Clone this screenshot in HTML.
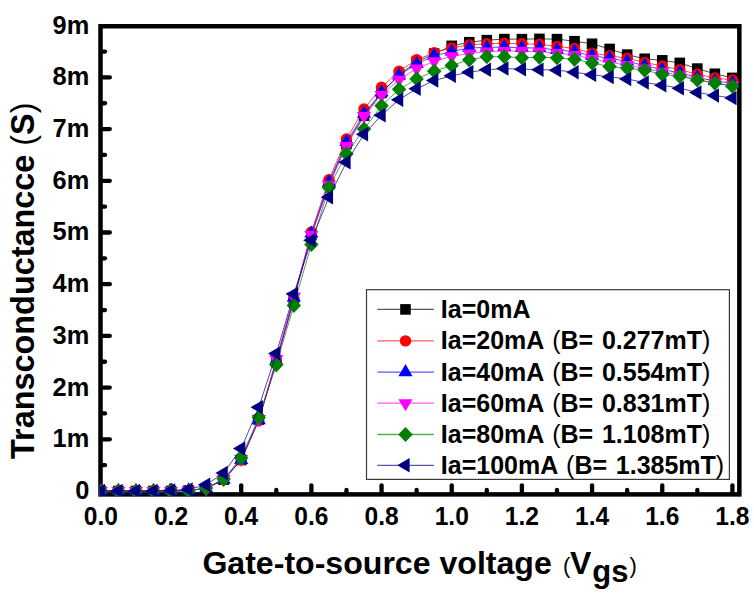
<!DOCTYPE html>
<html><head><meta charset="utf-8"><style>
html,body{margin:0;padding:0;background:#fff;}
body{width:754px;height:594px;overflow:hidden;}
svg{display:block;font-family:"Liberation Sans",sans-serif;font-weight:bold;}
</style></head><body>
<svg width="754" height="594" viewBox="0 0 754 594">
<rect width="754" height="594" fill="#fff"/>
<defs><clipPath id="cp"><rect x="99.6" y="24" width="641" height="472"/></clipPath></defs>
<g stroke="#000" stroke-width="4.3" stroke-linecap="round"><line x1="135.95" y1="494" x2="135.95" y2="489.9" />
<line x1="171.03" y1="494" x2="171.03" y2="485.3" />
<line x1="206.12" y1="494" x2="206.12" y2="489.9" />
<line x1="241.2" y1="494" x2="241.2" y2="485.3" />
<line x1="276.29" y1="494" x2="276.29" y2="489.9" />
<line x1="311.38" y1="494" x2="311.38" y2="485.3" />
<line x1="346.46" y1="494" x2="346.46" y2="489.9" />
<line x1="381.55" y1="494" x2="381.55" y2="485.3" />
<line x1="416.63" y1="494" x2="416.63" y2="489.9" />
<line x1="451.72" y1="494" x2="451.72" y2="485.3" />
<line x1="486.81" y1="494" x2="486.81" y2="489.9" />
<line x1="521.89" y1="494" x2="521.89" y2="485.3" />
<line x1="556.98" y1="494" x2="556.98" y2="489.9" />
<line x1="592.06" y1="494" x2="592.06" y2="485.3" />
<line x1="627.15" y1="494" x2="627.15" y2="489.9" />
<line x1="662.24" y1="494" x2="662.24" y2="485.3" />
<line x1="697.32" y1="494" x2="697.32" y2="489.9" />
<line x1="732.41" y1="494" x2="732.41" y2="485.3" />
<line x1="101" y1="465.15" x2="105" y2="465.15" />
<line x1="101" y1="439.3" x2="109.8" y2="439.3" />
<line x1="101" y1="413.45" x2="105" y2="413.45" />
<line x1="101" y1="387.6" x2="109.8" y2="387.6" />
<line x1="101" y1="361.75" x2="105" y2="361.75" />
<line x1="101" y1="335.9" x2="109.8" y2="335.9" />
<line x1="101" y1="310.05" x2="105" y2="310.05" />
<line x1="101" y1="284.2" x2="109.8" y2="284.2" />
<line x1="101" y1="258.35" x2="105" y2="258.35" />
<line x1="101" y1="232.5" x2="109.8" y2="232.5" />
<line x1="101" y1="206.65" x2="105" y2="206.65" />
<line x1="101" y1="180.8" x2="109.8" y2="180.8" />
<line x1="101" y1="154.95" x2="105" y2="154.95" />
<line x1="101" y1="129.1" x2="109.8" y2="129.1" />
<line x1="101" y1="103.25" x2="105" y2="103.25" />
<line x1="101" y1="77.4" x2="109.8" y2="77.4" />
<line x1="101" y1="51.55" x2="105" y2="51.55" /></g>
<rect x="100.5" y="26.25" width="638.85" height="468.15" fill="none" stroke="#000" stroke-width="4.5"/>
<g clip-path="url(#cp)"><polyline points="100.86,491 118.4,491 135.95,491 153.49,491 171.03,491 188.57,490.48 206.12,488.42 223.66,479.63 241.2,459.98 258.75,419.65 276.29,361.75 293.83,299.71 311.38,235.08 328.92,184.42 346.46,144.09 364,115.66 381.55,92.91 399.09,74.81 416.63,61.89 434.18,53.62 451.72,45.86 469.26,42.24 486.81,40.18 504.35,39.14 521.89,39.14 539.44,38.88 556.98,39.14 574.52,41.21 592.06,43.79 609.61,48.96 627.15,54.65 644.69,58.79 662.24,60.34 679.78,62.92 697.32,68.61 714.87,73.78 732.41,77.92" fill="none" stroke="#000000" stroke-width="1" stroke-opacity="0.7"/>
<rect x="95.56" y="485.7" width="10.6" height="10.6" fill="#000000"/>
<rect x="113.1" y="485.7" width="10.6" height="10.6" fill="#000000"/>
<rect x="130.65" y="485.7" width="10.6" height="10.6" fill="#000000"/>
<rect x="148.19" y="485.7" width="10.6" height="10.6" fill="#000000"/>
<rect x="165.73" y="485.7" width="10.6" height="10.6" fill="#000000"/>
<rect x="183.27" y="485.18" width="10.6" height="10.6" fill="#000000"/>
<rect x="200.82" y="483.12" width="10.6" height="10.6" fill="#000000"/>
<rect x="218.36" y="474.33" width="10.6" height="10.6" fill="#000000"/>
<rect x="235.9" y="454.68" width="10.6" height="10.6" fill="#000000"/>
<rect x="253.45" y="414.35" width="10.6" height="10.6" fill="#000000"/>
<rect x="270.99" y="356.45" width="10.6" height="10.6" fill="#000000"/>
<rect x="288.53" y="294.41" width="10.6" height="10.6" fill="#000000"/>
<rect x="306.08" y="229.78" width="10.6" height="10.6" fill="#000000"/>
<rect x="323.62" y="179.12" width="10.6" height="10.6" fill="#000000"/>
<rect x="341.16" y="138.79" width="10.6" height="10.6" fill="#000000"/>
<rect x="358.7" y="110.36" width="10.6" height="10.6" fill="#000000"/>
<rect x="376.25" y="87.61" width="10.6" height="10.6" fill="#000000"/>
<rect x="393.79" y="69.51" width="10.6" height="10.6" fill="#000000"/>
<rect x="411.33" y="56.59" width="10.6" height="10.6" fill="#000000"/>
<rect x="428.88" y="48.32" width="10.6" height="10.6" fill="#000000"/>
<rect x="446.42" y="40.56" width="10.6" height="10.6" fill="#000000"/>
<rect x="463.96" y="36.94" width="10.6" height="10.6" fill="#000000"/>
<rect x="481.51" y="34.88" width="10.6" height="10.6" fill="#000000"/>
<rect x="499.05" y="33.84" width="10.6" height="10.6" fill="#000000"/>
<rect x="516.59" y="33.84" width="10.6" height="10.6" fill="#000000"/>
<rect x="534.14" y="33.58" width="10.6" height="10.6" fill="#000000"/>
<rect x="551.68" y="33.84" width="10.6" height="10.6" fill="#000000"/>
<rect x="569.22" y="35.91" width="10.6" height="10.6" fill="#000000"/>
<rect x="586.76" y="38.49" width="10.6" height="10.6" fill="#000000"/>
<rect x="604.31" y="43.66" width="10.6" height="10.6" fill="#000000"/>
<rect x="621.85" y="49.35" width="10.6" height="10.6" fill="#000000"/>
<rect x="639.39" y="53.49" width="10.6" height="10.6" fill="#000000"/>
<rect x="656.94" y="55.04" width="10.6" height="10.6" fill="#000000"/>
<rect x="674.48" y="57.62" width="10.6" height="10.6" fill="#000000"/>
<rect x="692.02" y="63.31" width="10.6" height="10.6" fill="#000000"/>
<rect x="709.57" y="68.48" width="10.6" height="10.6" fill="#000000"/>
<rect x="727.11" y="72.62" width="10.6" height="10.6" fill="#000000"/>
<polyline points="100.86,491 118.4,491 135.95,491 153.49,491 171.03,491 188.57,490.48 206.12,488.42 223.66,479.63 241.2,459.98 258.75,420.69 276.29,361.75 293.83,298.68 311.38,231.98 328.92,179.77 346.46,138.92 364,108.94 381.55,87.22 399.09,71.2 416.63,59.82 434.18,52.58 451.72,47.93 469.26,44.83 486.81,43.79 504.35,43.28 521.89,43.79 539.44,44.31 556.98,46.38 574.52,48.45 592.06,53.1 609.61,55.69 627.15,58.27 644.69,62.41 662.24,66.03 679.78,69.64 697.32,74.3 714.87,77.92 732.41,79.98" fill="none" stroke="#ff0000" stroke-width="1" stroke-opacity="0.7"/>
<circle cx="100.86" cy="491" r="5.7" fill="#ff0000"/>
<circle cx="118.4" cy="491" r="5.7" fill="#ff0000"/>
<circle cx="135.95" cy="491" r="5.7" fill="#ff0000"/>
<circle cx="153.49" cy="491" r="5.7" fill="#ff0000"/>
<circle cx="171.03" cy="491" r="5.7" fill="#ff0000"/>
<circle cx="188.57" cy="490.48" r="5.7" fill="#ff0000"/>
<circle cx="206.12" cy="488.42" r="5.7" fill="#ff0000"/>
<circle cx="223.66" cy="479.63" r="5.7" fill="#ff0000"/>
<circle cx="241.2" cy="459.98" r="5.7" fill="#ff0000"/>
<circle cx="258.75" cy="420.69" r="5.7" fill="#ff0000"/>
<circle cx="276.29" cy="361.75" r="5.7" fill="#ff0000"/>
<circle cx="293.83" cy="298.68" r="5.7" fill="#ff0000"/>
<circle cx="311.38" cy="231.98" r="5.7" fill="#ff0000"/>
<circle cx="328.92" cy="179.77" r="5.7" fill="#ff0000"/>
<circle cx="346.46" cy="138.92" r="5.7" fill="#ff0000"/>
<circle cx="364" cy="108.94" r="5.7" fill="#ff0000"/>
<circle cx="381.55" cy="87.22" r="5.7" fill="#ff0000"/>
<circle cx="399.09" cy="71.2" r="5.7" fill="#ff0000"/>
<circle cx="416.63" cy="59.82" r="5.7" fill="#ff0000"/>
<circle cx="434.18" cy="52.58" r="5.7" fill="#ff0000"/>
<circle cx="451.72" cy="47.93" r="5.7" fill="#ff0000"/>
<circle cx="469.26" cy="44.83" r="5.7" fill="#ff0000"/>
<circle cx="486.81" cy="43.79" r="5.7" fill="#ff0000"/>
<circle cx="504.35" cy="43.28" r="5.7" fill="#ff0000"/>
<circle cx="521.89" cy="43.79" r="5.7" fill="#ff0000"/>
<circle cx="539.44" cy="44.31" r="5.7" fill="#ff0000"/>
<circle cx="556.98" cy="46.38" r="5.7" fill="#ff0000"/>
<circle cx="574.52" cy="48.45" r="5.7" fill="#ff0000"/>
<circle cx="592.06" cy="53.1" r="5.7" fill="#ff0000"/>
<circle cx="609.61" cy="55.69" r="5.7" fill="#ff0000"/>
<circle cx="627.15" cy="58.27" r="5.7" fill="#ff0000"/>
<circle cx="644.69" cy="62.41" r="5.7" fill="#ff0000"/>
<circle cx="662.24" cy="66.03" r="5.7" fill="#ff0000"/>
<circle cx="679.78" cy="69.64" r="5.7" fill="#ff0000"/>
<circle cx="697.32" cy="74.3" r="5.7" fill="#ff0000"/>
<circle cx="714.87" cy="77.92" r="5.7" fill="#ff0000"/>
<circle cx="732.41" cy="79.98" r="5.7" fill="#ff0000"/>
<polyline points="100.86,491 118.4,491 135.95,491 153.49,491 171.03,491 188.57,490.48 206.12,488.42 223.66,479.63 241.2,459.98 258.75,420.17 276.29,360.72 293.83,297.64 311.38,233.53 328.92,182.35 346.46,142.02 364,113.59 381.55,92.39 399.09,75.33 416.63,63.96 434.18,55.69 451.72,51.55 469.26,47.93 486.81,47.41 504.35,46.9 521.89,47.93 539.44,47.93 556.98,50 574.52,51.55 592.06,55.69 609.61,58.27 627.15,61.37 644.69,65.51 662.24,69.64 679.78,72.75 697.32,77.4 714.87,81.02 732.41,83.09" fill="none" stroke="#0000ff" stroke-width="1" stroke-opacity="0.7"/>
<path d="M100.86 482.87L107.96 495.07L93.76 495.07Z" fill="#0000ff"/>
<path d="M118.4 482.87L125.5 495.07L111.3 495.07Z" fill="#0000ff"/>
<path d="M135.95 482.87L143.05 495.07L128.85 495.07Z" fill="#0000ff"/>
<path d="M153.49 482.87L160.59 495.07L146.39 495.07Z" fill="#0000ff"/>
<path d="M171.03 482.87L178.13 495.07L163.93 495.07Z" fill="#0000ff"/>
<path d="M188.57 482.35L195.67 494.55L181.47 494.55Z" fill="#0000ff"/>
<path d="M206.12 480.28L213.22 492.48L199.02 492.48Z" fill="#0000ff"/>
<path d="M223.66 471.49L230.76 483.69L216.56 483.69Z" fill="#0000ff"/>
<path d="M241.2 451.85L248.3 464.05L234.1 464.05Z" fill="#0000ff"/>
<path d="M258.75 412.04L265.85 424.24L251.65 424.24Z" fill="#0000ff"/>
<path d="M276.29 352.58L283.39 364.78L269.19 364.78Z" fill="#0000ff"/>
<path d="M293.83 289.51L300.93 301.71L286.73 301.71Z" fill="#0000ff"/>
<path d="M311.38 225.4L318.48 237.6L304.28 237.6Z" fill="#0000ff"/>
<path d="M328.92 174.22L336.02 186.42L321.82 186.42Z" fill="#0000ff"/>
<path d="M346.46 133.89L353.56 146.09L339.36 146.09Z" fill="#0000ff"/>
<path d="M364 105.46L371.11 117.66L356.9 117.66Z" fill="#0000ff"/>
<path d="M381.55 84.26L388.65 96.46L374.45 96.46Z" fill="#0000ff"/>
<path d="M399.09 67.2L406.19 79.4L391.99 79.4Z" fill="#0000ff"/>
<path d="M416.63 55.82L423.73 68.02L409.53 68.02Z" fill="#0000ff"/>
<path d="M434.18 47.55L441.28 59.75L427.08 59.75Z" fill="#0000ff"/>
<path d="M451.72 43.42L458.82 55.62L444.62 55.62Z" fill="#0000ff"/>
<path d="M469.26 39.8L476.36 52L462.16 52Z" fill="#0000ff"/>
<path d="M486.81 39.28L493.91 51.48L479.71 51.48Z" fill="#0000ff"/>
<path d="M504.35 38.76L511.45 50.96L497.25 50.96Z" fill="#0000ff"/>
<path d="M521.89 39.8L528.99 52L514.79 52Z" fill="#0000ff"/>
<path d="M539.44 39.8L546.54 52L532.34 52Z" fill="#0000ff"/>
<path d="M556.98 41.87L564.08 54.07L549.88 54.07Z" fill="#0000ff"/>
<path d="M574.52 43.42L581.62 55.62L567.42 55.62Z" fill="#0000ff"/>
<path d="M592.06 47.55L599.16 59.75L584.96 59.75Z" fill="#0000ff"/>
<path d="M609.61 50.14L616.71 62.34L602.51 62.34Z" fill="#0000ff"/>
<path d="M627.15 53.24L634.25 65.44L620.05 65.44Z" fill="#0000ff"/>
<path d="M644.69 57.38L651.79 69.58L637.59 69.58Z" fill="#0000ff"/>
<path d="M662.24 61.51L669.34 73.71L655.14 73.71Z" fill="#0000ff"/>
<path d="M679.78 64.61L686.88 76.81L672.68 76.81Z" fill="#0000ff"/>
<path d="M697.32 69.27L704.42 81.47L690.22 81.47Z" fill="#0000ff"/>
<path d="M714.87 72.89L721.97 85.09L707.76 85.09Z" fill="#0000ff"/>
<path d="M732.41 74.95L739.51 87.15L725.31 87.15Z" fill="#0000ff"/>
<polyline points="100.86,491 118.4,491 135.95,491 153.49,491 171.03,491 188.57,490.48 206.12,488.42 223.66,479.11 241.2,458.95 258.75,419.14 276.29,359.16 293.83,296.61 311.38,235.08 328.92,184.94 346.46,146.16 364,116.17 381.55,94.98 399.09,79.47 416.63,68.61 434.18,61.37 451.72,56.2 469.26,53.62 486.81,51.55 504.35,51.03 521.89,51.03 539.44,51.55 556.98,53.1 574.52,55.17 592.06,58.79 609.61,62.41 627.15,64.99 644.69,68.61 662.24,71.71 679.78,75.33 697.32,79.47 714.87,83.09 732.41,85.67" fill="none" stroke="#ff00ff" stroke-width="1" stroke-opacity="0.7"/>
<path d="M100.86 499.13L107.96 486.93L93.76 486.93Z" fill="#ff00ff"/>
<path d="M118.4 499.13L125.5 486.93L111.3 486.93Z" fill="#ff00ff"/>
<path d="M135.95 499.13L143.05 486.93L128.85 486.93Z" fill="#ff00ff"/>
<path d="M153.49 499.13L160.59 486.93L146.39 486.93Z" fill="#ff00ff"/>
<path d="M171.03 499.13L178.13 486.93L163.93 486.93Z" fill="#ff00ff"/>
<path d="M188.57 498.62L195.67 486.42L181.47 486.42Z" fill="#ff00ff"/>
<path d="M206.12 496.55L213.22 484.35L199.02 484.35Z" fill="#ff00ff"/>
<path d="M223.66 487.24L230.76 475.04L216.56 475.04Z" fill="#ff00ff"/>
<path d="M241.2 467.08L248.3 454.88L234.1 454.88Z" fill="#ff00ff"/>
<path d="M258.75 427.27L265.85 415.07L251.65 415.07Z" fill="#ff00ff"/>
<path d="M276.29 367.3L283.39 355.1L269.19 355.1Z" fill="#ff00ff"/>
<path d="M293.83 304.74L300.93 292.54L286.73 292.54Z" fill="#ff00ff"/>
<path d="M311.38 243.22L318.48 231.02L304.28 231.02Z" fill="#ff00ff"/>
<path d="M328.92 193.07L336.02 180.87L321.82 180.87Z" fill="#ff00ff"/>
<path d="M346.46 154.29L353.56 142.09L339.36 142.09Z" fill="#ff00ff"/>
<path d="M364 124.31L371.11 112.11L356.9 112.11Z" fill="#ff00ff"/>
<path d="M381.55 103.11L388.65 90.91L374.45 90.91Z" fill="#ff00ff"/>
<path d="M399.09 87.6L406.19 75.4L391.99 75.4Z" fill="#ff00ff"/>
<path d="M416.63 76.74L423.73 64.54L409.53 64.54Z" fill="#ff00ff"/>
<path d="M434.18 69.51L441.28 57.31L427.08 57.31Z" fill="#ff00ff"/>
<path d="M451.72 64.34L458.82 52.14L444.62 52.14Z" fill="#ff00ff"/>
<path d="M469.26 61.75L476.36 49.55L462.16 49.55Z" fill="#ff00ff"/>
<path d="M486.81 59.68L493.91 47.48L479.71 47.48Z" fill="#ff00ff"/>
<path d="M504.35 59.17L511.45 46.97L497.25 46.97Z" fill="#ff00ff"/>
<path d="M521.89 59.17L528.99 46.97L514.79 46.97Z" fill="#ff00ff"/>
<path d="M539.44 59.68L546.54 47.48L532.34 47.48Z" fill="#ff00ff"/>
<path d="M556.98 61.23L564.08 49.03L549.88 49.03Z" fill="#ff00ff"/>
<path d="M574.52 63.3L581.62 51.1L567.42 51.1Z" fill="#ff00ff"/>
<path d="M592.06 66.92L599.16 54.72L584.96 54.72Z" fill="#ff00ff"/>
<path d="M609.61 70.54L616.71 58.34L602.51 58.34Z" fill="#ff00ff"/>
<path d="M627.15 73.13L634.25 60.93L620.05 60.93Z" fill="#ff00ff"/>
<path d="M644.69 76.74L651.79 64.54L637.59 64.54Z" fill="#ff00ff"/>
<path d="M662.24 79.85L669.34 67.65L655.14 67.65Z" fill="#ff00ff"/>
<path d="M679.78 83.47L686.88 71.27L672.68 71.27Z" fill="#ff00ff"/>
<path d="M697.32 87.6L704.42 75.4L690.22 75.4Z" fill="#ff00ff"/>
<path d="M714.87 91.22L721.97 79.02L707.76 79.02Z" fill="#ff00ff"/>
<path d="M732.41 93.81L739.51 81.61L725.31 81.61Z" fill="#ff00ff"/>
<polyline points="100.86,491 118.4,491 135.95,491 153.49,491 171.03,491 188.57,491 206.12,487.9 223.66,479.11 241.2,457.91 258.75,417.59 276.29,364.85 293.83,305.4 311.38,244.39 328.92,187.52 346.46,153.92 364,129.1 381.55,105.83 399.09,89.29 416.63,78.95 434.18,71.2 451.72,65.51 469.26,59.82 486.81,56.72 504.35,56.72 521.89,57.75 539.44,57.24 556.98,57.75 574.52,59.31 592.06,62.92 609.61,66.54 627.15,68.09 644.69,70.16 662.24,74.3 679.78,76.37 697.32,79.98 714.87,83.09 732.41,86.19" fill="none" stroke="#008000" stroke-width="1" stroke-opacity="0.7"/>
<path d="M100.86 483.4L108.06 491L100.86 498.6L93.66 491Z" fill="#008000"/>
<path d="M118.4 483.4L125.6 491L118.4 498.6L111.2 491Z" fill="#008000"/>
<path d="M135.95 483.4L143.15 491L135.95 498.6L128.75 491Z" fill="#008000"/>
<path d="M153.49 483.4L160.69 491L153.49 498.6L146.29 491Z" fill="#008000"/>
<path d="M171.03 483.4L178.23 491L171.03 498.6L163.83 491Z" fill="#008000"/>
<path d="M188.57 483.4L195.77 491L188.57 498.6L181.38 491Z" fill="#008000"/>
<path d="M206.12 480.3L213.32 487.9L206.12 495.5L198.92 487.9Z" fill="#008000"/>
<path d="M223.66 471.51L230.86 479.11L223.66 486.71L216.46 479.11Z" fill="#008000"/>
<path d="M241.2 450.31L248.4 457.91L241.2 465.51L234 457.91Z" fill="#008000"/>
<path d="M258.75 409.99L265.95 417.59L258.75 425.19L251.55 417.59Z" fill="#008000"/>
<path d="M276.29 357.25L283.49 364.85L276.29 372.45L269.09 364.85Z" fill="#008000"/>
<path d="M293.83 297.8L301.03 305.4L293.83 313L286.63 305.4Z" fill="#008000"/>
<path d="M311.38 236.79L318.58 244.39L311.38 251.99L304.18 244.39Z" fill="#008000"/>
<path d="M328.92 179.92L336.12 187.52L328.92 195.12L321.72 187.52Z" fill="#008000"/>
<path d="M346.46 146.32L353.66 153.92L346.46 161.52L339.26 153.92Z" fill="#008000"/>
<path d="M364 121.5L371.2 129.1L364 136.7L356.81 129.1Z" fill="#008000"/>
<path d="M381.55 98.23L388.75 105.83L381.55 113.43L374.35 105.83Z" fill="#008000"/>
<path d="M399.09 81.69L406.29 89.29L399.09 96.89L391.89 89.29Z" fill="#008000"/>
<path d="M416.63 71.35L423.83 78.95L416.63 86.55L409.43 78.95Z" fill="#008000"/>
<path d="M434.18 63.6L441.38 71.2L434.18 78.8L426.98 71.2Z" fill="#008000"/>
<path d="M451.72 57.91L458.92 65.51L451.72 73.11L444.52 65.51Z" fill="#008000"/>
<path d="M469.26 52.22L476.46 59.82L469.26 67.42L462.06 59.82Z" fill="#008000"/>
<path d="M486.81 49.12L494.01 56.72L486.81 64.32L479.61 56.72Z" fill="#008000"/>
<path d="M504.35 49.12L511.55 56.72L504.35 64.32L497.15 56.72Z" fill="#008000"/>
<path d="M521.89 50.15L529.09 57.75L521.89 65.35L514.69 57.75Z" fill="#008000"/>
<path d="M539.44 49.64L546.64 57.24L539.44 64.84L532.24 57.24Z" fill="#008000"/>
<path d="M556.98 50.15L564.18 57.75L556.98 65.35L549.78 57.75Z" fill="#008000"/>
<path d="M574.52 51.71L581.72 59.31L574.52 66.91L567.32 59.31Z" fill="#008000"/>
<path d="M592.06 55.32L599.26 62.92L592.06 70.52L584.86 62.92Z" fill="#008000"/>
<path d="M609.61 58.94L616.81 66.54L609.61 74.14L602.41 66.54Z" fill="#008000"/>
<path d="M627.15 60.49L634.35 68.09L627.15 75.69L619.95 68.09Z" fill="#008000"/>
<path d="M644.69 62.56L651.89 70.16L644.69 77.76L637.49 70.16Z" fill="#008000"/>
<path d="M662.24 66.7L669.44 74.3L662.24 81.9L655.04 74.3Z" fill="#008000"/>
<path d="M679.78 68.77L686.98 76.37L679.78 83.97L672.58 76.37Z" fill="#008000"/>
<path d="M697.32 72.38L704.52 79.98L697.32 87.58L690.12 79.98Z" fill="#008000"/>
<path d="M714.87 75.49L722.07 83.09L714.87 90.69L707.66 83.09Z" fill="#008000"/>
<path d="M732.41 78.59L739.61 86.19L732.41 93.79L725.21 86.19Z" fill="#008000"/>
<polyline points="100.86,491 118.4,491 135.95,491 153.49,491 171.03,490.48 188.57,489.45 206.12,484.8 223.66,472.9 241.2,448.61 258.75,407.25 276.29,353.48 293.83,294.02 311.38,240.25 328.92,197.34 346.46,162.19 364,134.27 381.55,115.14 399.09,99.63 416.63,88.77 434.18,80.5 451.72,75.85 469.26,72.23 486.81,69.64 504.35,68.61 521.89,69.13 539.44,69.64 556.98,70.16 574.52,72.23 592.06,74.81 609.61,76.88 627.15,78.95 644.69,82.57 662.24,85.15 679.78,88.26 697.32,92.39 714.87,95.49 732.41,98.08" fill="none" stroke="#000080" stroke-width="1" stroke-opacity="0.7"/>
<path d="M92.59 491L104.99 483.75L104.99 498.25Z" fill="#000080"/>
<path d="M110.14 491L122.54 483.75L122.54 498.25Z" fill="#000080"/>
<path d="M127.68 491L140.08 483.75L140.08 498.25Z" fill="#000080"/>
<path d="M145.22 491L157.62 483.75L157.62 498.25Z" fill="#000080"/>
<path d="M162.77 490.48L175.17 483.23L175.17 497.73Z" fill="#000080"/>
<path d="M180.31 489.45L192.71 482.2L192.71 496.7Z" fill="#000080"/>
<path d="M197.85 484.8L210.25 477.55L210.25 492.05Z" fill="#000080"/>
<path d="M215.39 472.9L227.79 465.65L227.79 480.15Z" fill="#000080"/>
<path d="M232.94 448.61L245.34 441.36L245.34 455.86Z" fill="#000080"/>
<path d="M250.48 407.25L262.88 400L262.88 414.5Z" fill="#000080"/>
<path d="M268.02 353.48L280.42 346.23L280.42 360.73Z" fill="#000080"/>
<path d="M285.57 294.02L297.97 286.77L297.97 301.27Z" fill="#000080"/>
<path d="M303.11 240.25L315.51 233L315.51 247.5Z" fill="#000080"/>
<path d="M320.65 197.34L333.05 190.09L333.05 204.59Z" fill="#000080"/>
<path d="M338.2 162.19L350.6 154.94L350.6 169.44Z" fill="#000080"/>
<path d="M355.74 134.27L368.14 127.02L368.14 141.52Z" fill="#000080"/>
<path d="M373.28 115.14L385.68 107.89L385.68 122.39Z" fill="#000080"/>
<path d="M390.82 99.63L403.22 92.38L403.22 106.88Z" fill="#000080"/>
<path d="M408.37 88.77L420.77 81.52L420.77 96.02Z" fill="#000080"/>
<path d="M425.91 80.5L438.31 73.25L438.31 87.75Z" fill="#000080"/>
<path d="M443.45 75.85L455.85 68.6L455.85 83.1Z" fill="#000080"/>
<path d="M461 72.23L473.4 64.98L473.4 79.48Z" fill="#000080"/>
<path d="M478.54 69.64L490.94 62.39L490.94 76.89Z" fill="#000080"/>
<path d="M496.08 68.61L508.48 61.36L508.48 75.86Z" fill="#000080"/>
<path d="M513.63 69.13L526.03 61.88L526.03 76.38Z" fill="#000080"/>
<path d="M531.17 69.64L543.57 62.39L543.57 76.89Z" fill="#000080"/>
<path d="M548.71 70.16L561.11 62.91L561.11 77.41Z" fill="#000080"/>
<path d="M566.25 72.23L578.65 64.98L578.65 79.48Z" fill="#000080"/>
<path d="M583.8 74.81L596.2 67.56L596.2 82.06Z" fill="#000080"/>
<path d="M601.34 76.88L613.74 69.63L613.74 84.13Z" fill="#000080"/>
<path d="M618.88 78.95L631.28 71.7L631.28 86.2Z" fill="#000080"/>
<path d="M636.43 82.57L648.83 75.32L648.83 89.82Z" fill="#000080"/>
<path d="M653.97 85.15L666.37 77.9L666.37 92.4Z" fill="#000080"/>
<path d="M671.51 88.26L683.91 81.01L683.91 95.51Z" fill="#000080"/>
<path d="M689.06 92.39L701.46 85.14L701.46 99.64Z" fill="#000080"/>
<path d="M706.6 95.49L719 88.24L719 102.74Z" fill="#000080"/>
<path d="M724.14 98.08L736.54 90.83L736.54 105.33Z" fill="#000080"/></g>
<g fill="#000"><text x="89.3" y="498.9" text-anchor="end" font-size="25.4">0</text>
<text x="89.3" y="447.2" text-anchor="end" font-size="25.4">1m</text>
<text x="89.3" y="395.5" text-anchor="end" font-size="25.4">2m</text>
<text x="89.3" y="343.8" text-anchor="end" font-size="25.4">3m</text>
<text x="89.3" y="292.1" text-anchor="end" font-size="25.4">4m</text>
<text x="89.3" y="240.4" text-anchor="end" font-size="25.4">5m</text>
<text x="89.3" y="188.7" text-anchor="end" font-size="25.4">6m</text>
<text x="89.3" y="137" text-anchor="end" font-size="25.4">7m</text>
<text x="89.3" y="85.3" text-anchor="end" font-size="25.4">8m</text>
<text x="89.3" y="33.6" text-anchor="end" font-size="25.4">9m</text>
<text transform="translate(100.86,524.9) scale(1,1.055)" text-anchor="middle" font-size="24.6">0.0</text>
<text transform="translate(171.03,524.9) scale(1,1.055)" text-anchor="middle" font-size="24.6">0.2</text>
<text transform="translate(241.2,524.9) scale(1,1.055)" text-anchor="middle" font-size="24.6">0.4</text>
<text transform="translate(311.38,524.9) scale(1,1.055)" text-anchor="middle" font-size="24.6">0.6</text>
<text transform="translate(381.55,524.9) scale(1,1.055)" text-anchor="middle" font-size="24.6">0.8</text>
<text transform="translate(451.72,524.9) scale(1,1.055)" text-anchor="middle" font-size="24.6">1.0</text>
<text transform="translate(521.89,524.9) scale(1,1.055)" text-anchor="middle" font-size="24.6">1.2</text>
<text transform="translate(592.06,524.9) scale(1,1.055)" text-anchor="middle" font-size="24.6">1.4</text>
<text transform="translate(662.24,524.9) scale(1,1.055)" text-anchor="middle" font-size="24.6">1.6</text>
<text transform="translate(732.41,524.9) scale(1,1.055)" text-anchor="middle" font-size="24.6">1.8</text></g>
<g font-size="25" fill="#000"><rect x="366.5" y="289.7" width="362.9" height="189.7" fill="#fff" stroke="#3a3a3a" stroke-width="1.2"/>
<line x1="377.3" y1="309.4" x2="433.9" y2="309.4" stroke="#000000" stroke-width="1.3" stroke-opacity="0.65"/>
<rect x="400.2" y="304.1" width="10.6" height="10.6" fill="#000000"/>
<text x="440.8" y="317.8" word-spacing="1.8">Ia=0mA</text>
<line x1="377.3" y1="340.9" x2="433.9" y2="340.9" stroke="#ff0000" stroke-width="1.3" stroke-opacity="0.65"/>
<circle cx="405.5" cy="340.9" r="5.7" fill="#ff0000"/>
<text x="440.8" y="349.3" word-spacing="1.8">Ia=20mA <tspan font-weight="normal">(</tspan>B= 0.277mT<tspan font-weight="normal">)</tspan></text>
<line x1="377.3" y1="372.2" x2="433.9" y2="372.2" stroke="#0000ff" stroke-width="1.3" stroke-opacity="0.65"/>
<path d="M405.5 364.07L412.6 376.27L398.4 376.27Z" fill="#0000ff"/>
<text x="440.8" y="380.6" word-spacing="1.8">Ia=40mA <tspan font-weight="normal">(</tspan>B= 0.554mT<tspan font-weight="normal">)</tspan></text>
<line x1="377.3" y1="403.2" x2="433.9" y2="403.2" stroke="#ff00ff" stroke-width="1.3" stroke-opacity="0.65"/>
<path d="M405.5 411.33L412.6 399.13L398.4 399.13Z" fill="#ff00ff"/>
<text x="440.8" y="411.6" word-spacing="1.8">Ia=60mA <tspan font-weight="normal">(</tspan>B= 0.831mT<tspan font-weight="normal">)</tspan></text>
<line x1="377.3" y1="434.5" x2="433.9" y2="434.5" stroke="#008000" stroke-width="1.3" stroke-opacity="0.65"/>
<path d="M405.5 426.9L412.7 434.5L405.5 442.1L398.3 434.5Z" fill="#008000"/>
<text x="440.8" y="442.9" word-spacing="1.8">Ia=80mA <tspan font-weight="normal">(</tspan>B= 1.108mT<tspan font-weight="normal">)</tspan></text>
<line x1="377.3" y1="465.3" x2="433.9" y2="465.3" stroke="#000080" stroke-width="1.3" stroke-opacity="0.65"/>
<path d="M397.23 465.3L409.63 458.05L409.63 472.55Z" fill="#000080"/>
<text x="440.8" y="473.7" word-spacing="1.8">Ia=100mA <tspan font-weight="normal">(</tspan>B= 1.385mT<tspan font-weight="normal">)</tspan></text></g>
<text x="202.4" y="573.6" font-size="32.1">Gate-to-source voltage</text>
<text x="563" y="573.3" font-size="22" font-weight="normal">(</text>
<text x="570" y="573.6" font-size="32">V</text>
<text x="592.3" y="582.4" font-size="31">gs</text>
<text x="629.5" y="572.5" font-size="22" font-weight="normal">)</text>
<text transform="translate(33.9,458.9) rotate(-90)" font-size="32.4">Transconductancce <tspan font-weight="normal">(</tspan>S<tspan font-weight="normal">)</tspan></text>
</svg>
</body></html>
